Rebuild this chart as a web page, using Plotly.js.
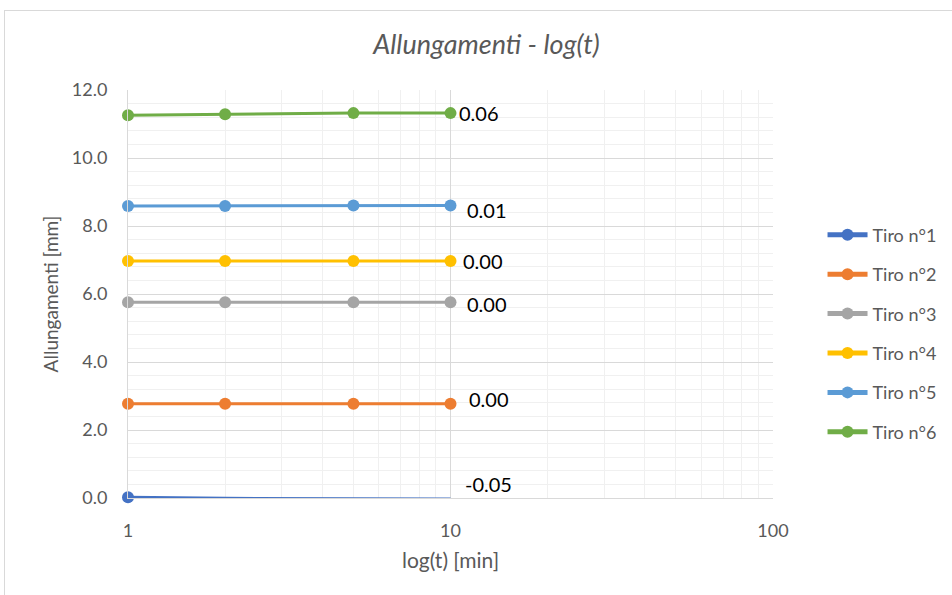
<!DOCTYPE html>
<html>
<head>
<meta charset="utf-8">
<script src="https://cdn.plot.ly/plotly-3.0.1.min.js"></script>
<style>
  html, body { margin: 0; padding: 0; background: #fff; }
  #frame { position: absolute; left: 4px; top: 10px; width: 960px; height: 600px; border: 1px solid #d9d9d9; }
  #chart { position: absolute; left: 0; top: 0; width: 952px; height: 595px; }
</style>
</head>
<body>
<div id="frame"></div>
<div id="chart"></div>
<script>
const times = [1, 2, 5, 10];
const seriesNames = ["Tiro n°1", "Tiro n°2", "Tiro n°3", "Tiro n°4", "Tiro n°5", "Tiro n°6"];
const tiro1 = [0.02, -0.01, -0.02, -0.03];
const tiro2 = [2.77, 2.77, 2.77, 2.77];
const tiro3 = [5.76, 5.76, 5.76, 5.76];
const tiro4 = [6.97, 6.97, 6.97, 6.97];
const tiro5 = [8.59, 8.59, 8.60, 8.60];
const tiro6 = [11.26, 11.29, 11.32, 11.32];
const endLabels = ["-0.05", "0.00", "0.00", "0.00", "0.01", "0.06"];

const values = [tiro1, tiro2, tiro3, tiro4, tiro5, tiro6];
const colors = ["#4472C4", "#ED7D31", "#A5A5A5", "#FFC000", "#5B9BD5", "#70AD47"];
const labelShift = [[12, 14], [16, 5], [14, -2], [10, 0], [14, -4], [6, 0]];

const traces = values.map((v, i) => ({
  x: times,
  y: v,
  name: seriesNames[i],
  legendgroup: "g" + i,
  type: "scatter",
  mode: "lines+markers",
  line: { color: colors[i], width: 3 },
  marker: { color: colors[i], size: v.map(val => val < 0 ? 0 : 12), opacity: 1, line: { width: 0 } },
  cliponaxis: false
}));

const annotations = values.map((v, i) => ({
  x: Math.log10(times[times.length - 1]),
  y: Math.max(v[v.length - 1], 0),
  xref: "x", yref: "y",
  text: endLabels[i],
  showarrow: false,
  xanchor: "left",
  yanchor: "middle",
  xshift: labelShift[i][0],
  yshift: labelShift[i][1],
  font: { family: "Lato, sans-serif", size: 20, color: "#000000" }
}));

const layout = {
  width: 952, height: 595,
  margin: { l: 128, r: 179, t: 90, b: 97 },
  paper_bgcolor: "rgba(0,0,0,0)",
  plot_bgcolor: "#ffffff",
  font: { family: "Lato, sans-serif", color: "#595959", size: 18 },
  title: {
    text: "<i>Allungamenti - log(t)</i>",
    x: 0.511, xref: "container", xanchor: "center",
    y: 45, yref: "container",
    yanchor: "middle",
    font: { family: "Lato, sans-serif", size: 27, color: "#595959" }
  },
  xaxis: {
    type: "log",
    range: [0, 2],
    dtick: 1,
    showgrid: true, gridcolor: "#d9d9d9", gridwidth: 1,
    minor: { dtick: "D1", showgrid: true, gridcolor: "#f0f0f0", gridwidth: 1, ticks: "" },
    showline: true, linecolor: "#d9d9d9", linewidth: 1,
    zeroline: false,
    ticks: "outside", ticklen: 16, tickcolor: "rgba(0,0,0,0)",
    tickfont: { size: 18, color: "#595959" },
    title: { text: "log(t) [min]", standoff: 13, font: { size: 21, color: "#595959" } }
  },
  yaxis: {
    range: [0, 12],
    dtick: 2,
    tickformat: ".1f",
    showgrid: true, gridcolor: "#d9d9d9", gridwidth: 1,
    minor: { dtick: 0.4, showgrid: true, gridcolor: "#f0f0f0", gridwidth: 1, ticks: "" },
    showline: true, linecolor: "#d9d9d9", linewidth: 1,
    zeroline: false,
    ticks: "outside", ticklen: 16, tickcolor: "rgba(0,0,0,0)",
    tickfont: { size: 18, color: "#595959" },
    title: { text: "Allungamenti [mm]", standoff: 8, font: { size: 19, color: "#595959" } }
  },
  showlegend: true,
  legend: {
    xref: "container", yref: "container",
    x: 0.864, xanchor: "left",
    y: 0.636, yanchor: "top",
    traceorder: "grouped",
    tracegroupgap: 13,
    itemsizing: "constant",
    itemwidth: 40,
    font: { size: 18, color: "#595959" },
    bgcolor: "rgba(0,0,0,0)"
  },
  annotations: annotations
};

Plotly.newPlot("chart", traces, layout, { displayModeBar: false, staticPlot: true });
</script>
</body>
</html>
